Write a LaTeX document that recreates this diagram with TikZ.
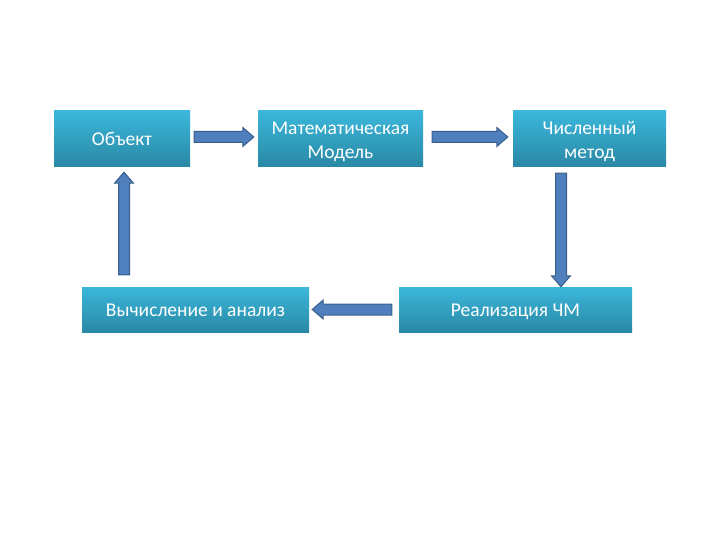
\documentclass[tikz,border=0pt]{standalone}
\usepackage{fontspec}
\setmainfont{Carlito}
\usetikzlibrary{calc}
\definecolor{boxtop}{HTML}{3BB7DB}
\definecolor{boxbot}{HTML}{2A88A5}
\definecolor{arrfill}{HTML}{4F80BD}
\definecolor{arrline}{HTML}{3A5F8D}
\tikzset{
  box/.style={rectangle, inner sep=0pt, top color=boxtop, bottom color=boxbot},
  boxtext/.style={text=white, font=\fontsize{19.5}{24}\selectfont, align=center,
    yshift=-2pt, inner sep=0pt, execute at begin node=\strut, execute at end node=\strut},
  twoline/.style={yshift=-2.5pt},
  blockarrow/.style={fill=arrfill, draw=arrline, line width=1pt, line join=miter,
    to path={
      ($(\tikztostart)!5.5pt!90:(\tikztotarget)$)
      -- ($($(\tikztotarget)!11pt!(\tikztostart)$)!5.5pt!-90:(\tikztostart)$)
      -- ($($(\tikztotarget)!11pt!(\tikztostart)$)!9.5pt!-90:(\tikztostart)$)
      -- (\tikztotarget)
      -- ($($(\tikztotarget)!11pt!(\tikztostart)$)!9.5pt!90:(\tikztostart)$)
      -- ($($(\tikztotarget)!11pt!(\tikztostart)$)!5.5pt!90:(\tikztostart)$)
      -- ($(\tikztostart)!5.5pt!-90:(\tikztotarget)$) -- cycle}}
}
\begin{document}
\begin{tikzpicture}[x=1pt,y=-1pt]
\useasboundingbox (0,0) rectangle (720,540);
\node[box, minimum width=136pt, minimum height=56pt,
  label={[boxtext, name=objt]center:Объект}] (obj) at (122,139) {};
\node[box, minimum width=165pt, minimum height=56pt,
  label={[boxtext, twoline, name=mmt]center:Математическая\\Модель}] (mm) at (340.5,139) {};
\node[box, minimum width=153pt, minimum height=56pt,
  label={[boxtext, twoline, name=cmt]center:Численный\\метод}] (cm) at (589.5,139) {};
\node[box, minimum width=227pt, minimum height=45pt,
  label={[boxtext, name=vat]center:Вычисление и анализ}] (va) at (195.5,309.5) {};
\node[box, minimum width=233pt, minimum height=45pt,
  label={[boxtext, name=rct]center:Реализация ЧМ}] (rc) at (515.5,309.5) {};

\coordinate (a1s) at ($(obj.east)+(4,-2)$);
\coordinate (a1t) at ($(mm.west)+(-4,-2)$);
\coordinate (a2s) at ($(mm.east)+(9,-2)$);
\coordinate (a2t) at ($(cm.west)+(-5,-2)$);
\coordinate (a3s) at ($(cm.south)+(-28.5,6)$);
\coordinate (a3t) at ($(rc.north)+(45.5,0)$);
\coordinate (a4s) at ($(rc.west)+(-7,0)$);
\coordinate (a4t) at ($(va.east)+(3,0)$);
\coordinate (a5s) at ($(va.north)+(-71.5,-12)$);
\coordinate (a5t) at ($(obj.south)+(2,5)$);

\draw[blockarrow] (a1s) to (a1t);
\draw[blockarrow] (a2s) to (a2t);
\draw[blockarrow] (a3s) to (a3t);
\draw[blockarrow] (a4s) to (a4t);
\draw[blockarrow] (a5s) to (a5t);
\end{tikzpicture}
\end{document}
